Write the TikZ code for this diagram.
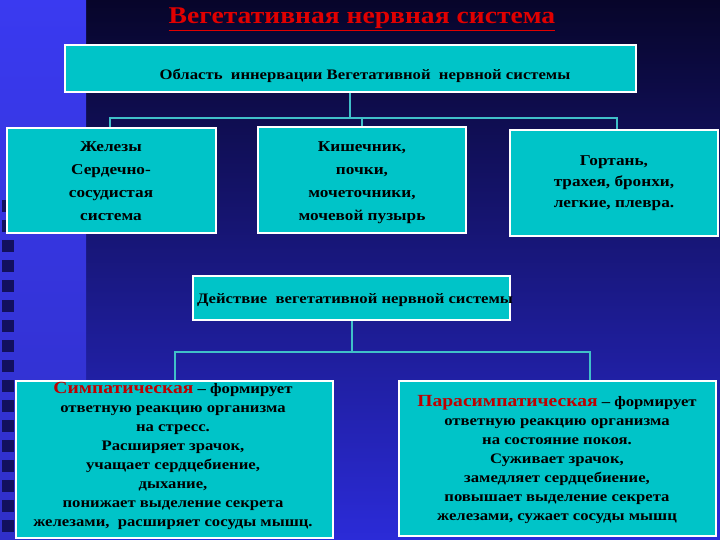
\documentclass[tikz,border=0pt]{standalone}
\usepackage{fontspec}
\setmainfont[FakeStretch=1.15]{Liberation Serif}
\usetikzlibrary{calc}
\definecolor{cy}{HTML}{00C4C8}
\definecolor{ln}{HTML}{40C0C8}
\definecolor{navy}{HTML}{07052A}
\definecolor{blu}{HTML}{2B2BD8}
\definecolor{strip}{HTML}{3A3AF0}
\definecolor{ttl}{HTML}{E00000}
\tikzset{box/.style={draw=white,line width=1.5pt,fill=cy,inner sep=0pt},
txt/.style={align=center,inner sep=0pt,font=\fontsize{14.5}{19}\selectfont\bfseries},
conn/.style={draw=ln,line width=1.2pt},
sq/.style={fill=navy!70!blu,draw=none}}
\begin{document}
\begin{tikzpicture}[x=1pt,y=-1pt]
\useasboundingbox (0,0) rectangle (720,540);
\shade[top color=navy,bottom color=blu,middle color=navy!50!blu] (0,0) rectangle (720,540);
\shade[top color=strip,bottom color=strip!80!navy] (0,0) rectangle (86,540);
\foreach \y in {200,220,...,520} {\fill[sq] (2,\y) rectangle (14,\y+12);}
\node[font=\fontsize{24}{28}\selectfont\bfseries,text=ttl] (title) at (362,19) {\underline{Вегетативная нервная система}};
\node[box,minimum width=571pt,minimum height=47pt] (top) at (350.5,68.5) {};
\node[txt] (t0) at (365,76) {Область \ иннервации Вегетативной \ нервной системы};
\node[box,minimum width=209pt,minimum height=105pt] (b1) at (111.5,180.5) {};
\node[txt,anchor=north,font=\fontsize{15}{23}\selectfont\bfseries] (t1) at (111,141) {Железы\\Сердечно-\\сосудистая\\система};
\node[box,minimum width=208pt,minimum height=106pt] (b2) at (362,180) {};
\node[txt,anchor=north,font=\fontsize{15}{23}\selectfont\bfseries] (t2) at (362,141) {Кишечник,\\почки,\\мочеточники,\\мочевой пузырь};
\node[box,minimum width=208pt,minimum height=106pt] (b3) at (614,183) {};
\node[txt,font=\fontsize{15}{21}\selectfont\bfseries] (t3) at (614,183) {Гортань,\\трахея, бронхи,\\легкие, плевра.};
\node[box,minimum width=317pt,minimum height=44pt] (mid) at (351.5,298) {};
\node[txt] (tm) at (355,300) {Действие \ вегетативной нервной системы};
\node[box,minimum width=317pt,minimum height=157pt] (s) at (174.5,459.5) {};
\node[txt,anchor=north] (ts) at (173,382) {{\fontsize{17}{19}\selectfont\textcolor{ttl!85!black}{Симпатическая}} – формирует\\ответную реакцию организма\\на стресс.\\Расширяет зрачок,\\учащает сердцебиение,\\дыхание,\\понижает выделение секрета\\железами, \ расширяет сосуды мышц.};
\node[box,minimum width=317pt,minimum height=155pt] (p) at (557.5,458.5) {};
\node[txt,anchor=north] (tp) at (557,395) {{\fontsize{17}{19}\selectfont\textcolor{ttl!85!black}{Парасимпатическая}} – формирует\\ответную реакцию организма\\на состояние покоя.\\Суживает зрачок,\\замедляет сердцебиение,\\повышает выделение секрета\\железами, сужает сосуды мышц};
\coordinate (h1) at (110,118);
\coordinate (h2) at (617,118);
\coordinate (h0) at (350,118);
\draw[conn] (top.south -| h0) -- (h0);
\draw[conn] (b1.north -| h1) -- (h1) -- (h2) -- (b3.north -| h2);
\draw[conn] (b2.north) -- (b2.north |- h0);
\coordinate (m0) at (352,352);
\coordinate (m1) at (175,352);
\coordinate (m2) at (590,352);
\draw[conn] (mid.south -| m0) -- (m0);
\draw[conn] (s.north -| m1) -- (m1) -- (m2) -- (p.north -| m2);
\end{tikzpicture}
\end{document}
